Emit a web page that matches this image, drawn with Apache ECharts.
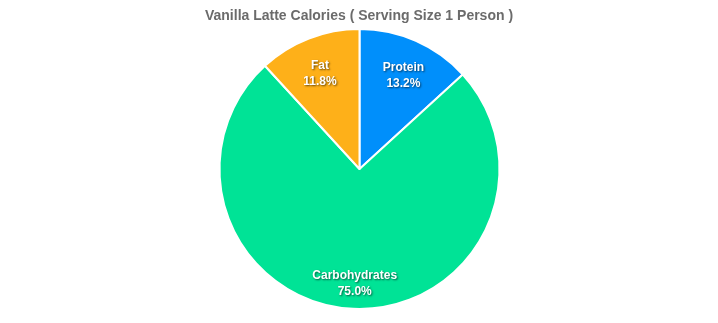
<!DOCTYPE html>
<html><head><meta charset="utf-8">
<script src="https://cdn.jsdelivr.net/npm/echarts@6/dist/echarts.min.js"></script>
<style>html,body{margin:0;padding:0;background:#fff}#c{width:718px;height:323px}</style>
</head><body><div id="c"></div>
<script>
const categories = ['Protein', 'Carbohydrates', 'Fat'];
const values = [13.2, 75.0, 11.8];
const colors = ['#008FFB', '#00E396', '#FEB019'];
const titleText = 'Vanilla Latte Calories ( Serving Size 1 Person )';

const data = categories.map((c, i) => ({ name: c, value: values[i], itemStyle: { color: colors[i] } }));
const total = values.reduce((a, b) => a + b, 0);
const txt = { fontFamily: 'Liberation Sans, Arial', fontSize: 12, fontWeight: 'bold', color: '#fff', lineHeight: 16,
  textShadowColor: 'rgba(0,0,0,0.6)', textShadowBlur: 2, textShadowOffsetX: 1, textShadowOffsetY: 1 };
const chart = echarts.init(document.getElementById('c'));
chart.setOption({
  animation: false,
  title: { text: titleText, left: 'center', top: 4,
    textStyle: { fontFamily: 'Liberation Sans, Arial', fontSize: 14, fontWeight: 'bold', color: '#6b6b6b' } },
  series: [
    { type: 'pie', center: [359.5, 169], radius: [0, 140], startAngle: 90, clockwise: true,
      data: data, label: { show: false }, labelLine: { show: false },
      itemStyle: { borderColor: '#fff', borderWidth: 2 }, silent: true },
    { type: 'pie', center: [359.5, 169], radius: [99, 113], startAngle: 90, clockwise: true,
      data: data.map(d => ({ name: d.name, value: d.value, itemStyle: { color: 'rgba(0,0,0,0)' } })),
      silent: true, labelLine: { show: false },
      label: Object.assign({ show: true, position: 'inside',
        formatter: p => '{s|}\n{t|' + p.name + '}\n{t|' + (p.value / total * 100).toFixed(1) + '%}',
        rich: { s: { lineHeight: 12, fontSize: 1 }, t: Object.assign({}, txt) } }, txt) }
  ]
});
</script></body></html>
